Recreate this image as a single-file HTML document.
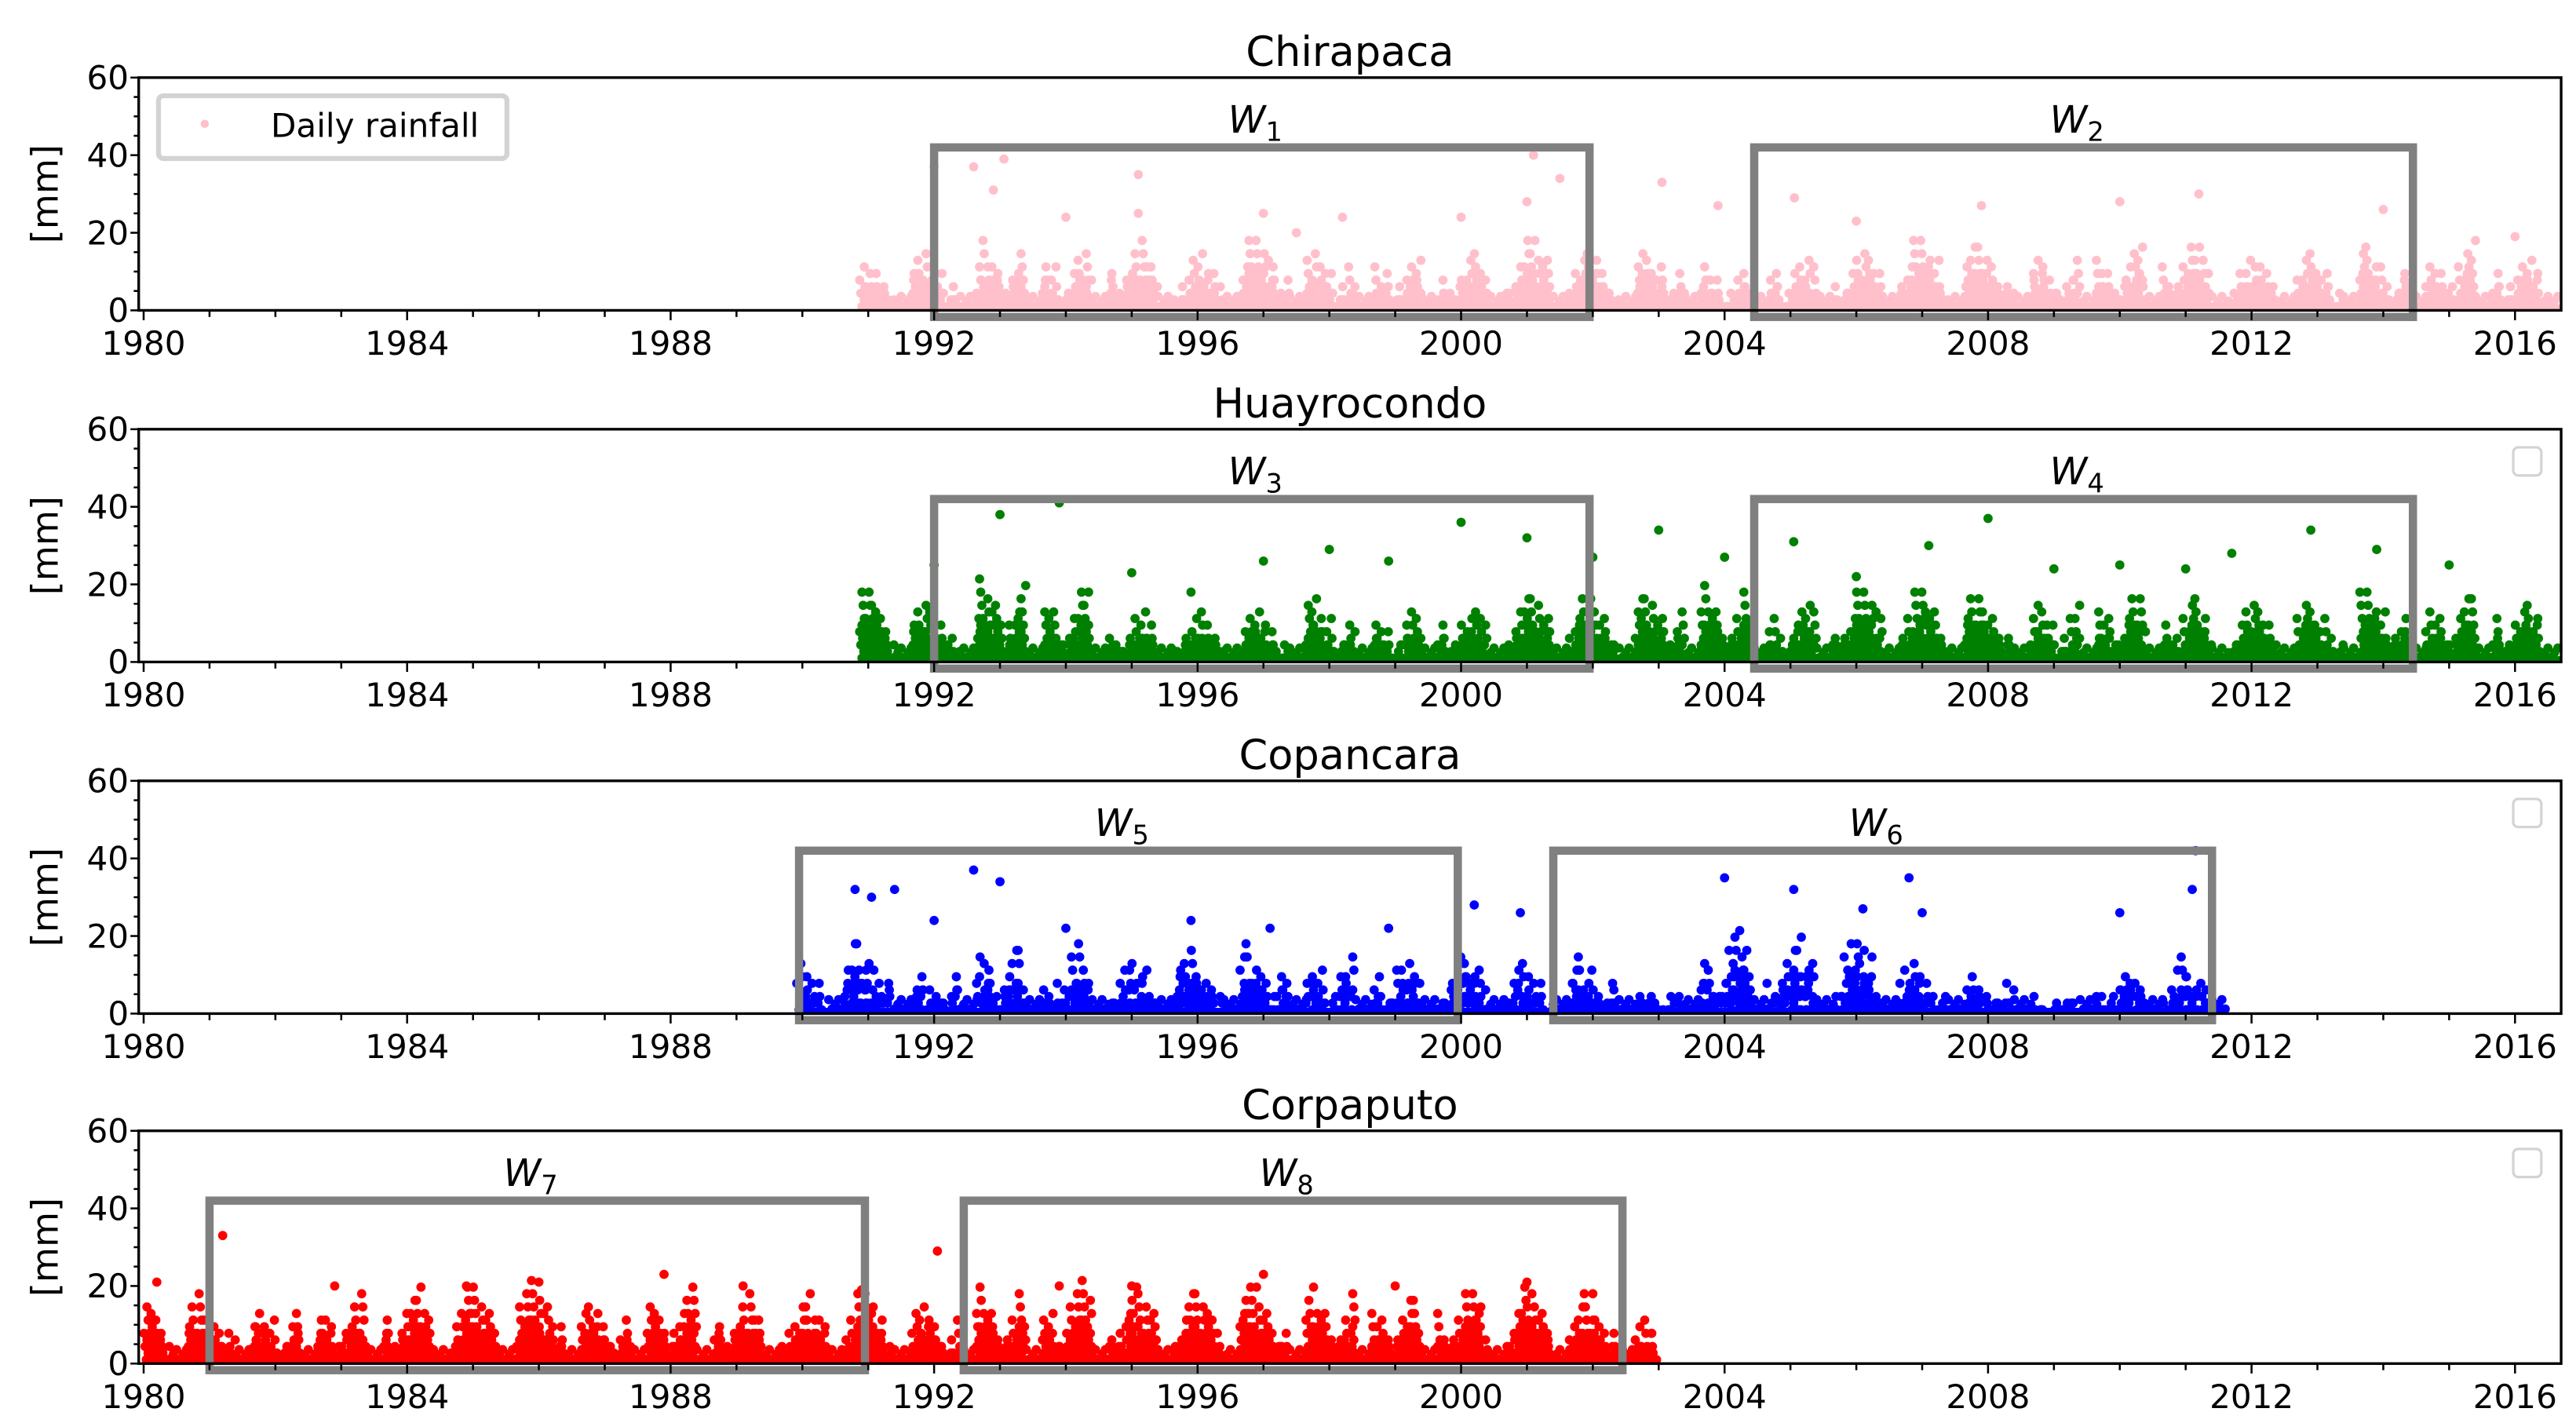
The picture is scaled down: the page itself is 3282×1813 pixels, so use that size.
<!DOCTYPE html>
<html><head><meta charset="utf-8">
<style>
html,body{margin:0;padding:0;background:#fff;}
svg{display:block;font-family:"DejaVu Sans","Liberation Sans",sans-serif;}
</style></head>
<body>
<svg id="chart" width="3282" height="1813" viewBox="0 0 1560 862" preserveAspectRatio="none" xmlns="http://www.w3.org/2000/svg"></svg>
<script>
// ---- data ----
const stationNames = ["Chirapaca","Huayrocondo","Copancara","Corpaputo"];
const stationColors = ["#ffc0cb","#008000","#0000ff","#ff0000"];
const xTickYears = [1980,1984,1988,1992,1996,2000,2004,2008,2012,2016];
const yTickVals = [0,20,40,60];
const dataStart = [1990.9,1990.9,1989.95,1980.0];
const dataEnd = [2016.7,2016.7,2011.6,2002.95];
// wet-season peak levels of the dense cloud (mm), season centred on January of year
const chiraYears = [1991,1992,1993,1994,1995,1996,1997,1998,1999,2000,2001,2002,2003,2004,2005,2006,2007,2008,2009,2010,2011,2012,2013,2014,2015,2016];
const chiraDense = [12,16,18,17,18,15,20,16,14,15,19,17,16,13,15,17,19,18,15,17,18,14,15,17,16,14];
const huayYears = chiraYears;
const huayDense = [20,17,22,19,13,13,14,17,14,15,19,18,19,20,17,20,19,18,17,18,17,17,16,19,18,16];
const copanYears = [1990,1991,1992,1993,1994,1995,1996,1997,1998,1999,2000,2001,2002,2003,2004,2005,2006,2007,2008,2009,2010,2011];
const copanDense = [14,20,12,20,18,16,18,18,16,16,16,14,18,8,24,20,22,14,12,6,14,16];
const corpYears = [1980,1981,1982,1983,1984,1985,1986,1987,1988,1989,1990,1991,1992,1993,1994,1995,1996,1997,1998,1999,2000,2001,2002,2003];
const corpDense = [20,18,16,18,20,22,22,17,20,18,18,20,16,20,22,21,20,22,20,18,20,21,18,12];
// outliers (date, mm)
const chiraOutX = [1992.0,1992.6,1993.06,1992.9,1995.1,1995.1,1994.0,1997.0,1998.2,1997.5,2000.0,2001.1,2001.0,2001.5,2003.05,2003.9,2005.06,2006.0,2007.9,2010.0,2011.2,2014.0,2015.4,2016.0];
const chiraOutV = [37,37,39,31,35,25,24,25,24,20,24,40,28,34,33,27,29,23,27,28,30,26,18,19];
const huayOutX = [1993.0,1993.9,1992.0,1995.0,1995.9,1997.0,1998.0,1998.9,2000.0,2001.0,2002.0,2003.0,2004.0,2005.05,2006.0,2007.1,2008.0,2009.0,2010.0,2011.0,2011.7,2012.9,2013.9,2015.0];
const huayOutV = [38,41,25,23,18,26,29,26,36,32,27,34,27,31,22,30,37,24,25,24,28,34,29,25];
const copanOutX = [1990.8,1991.05,1991.4,1992.6,1993.0,1992.0,1994.0,1995.9,1997.1,1998.9,2000.2,2000.9,2004.0,2005.05,2006.1,2006.8,2007.0,2010.0,2011.15,2011.1];
const copanOutV = [32,30,32,37,34,24,22,24,22,22,28,26,35,32,27,35,26,26,42,32];
const corpOutX = [1981.2,1992.05,1980.2,1982.9,1984.9,1986.0,1987.9,1989.1,1990.9,1993.9,1995.0,1997.0,1999.0,2001.0,2002.0];
const corpOutV = [33,29,21,20,20,21,23,20,19,20,20,23,20,21,18];
const windowLabels = ["1","2","3","4","5","6","7","8"];
const windowStart = [1992.0,2004.45,1992.0,2004.45,1989.95,2001.4,1981.0,1992.45];
const windowEnd = [2001.95,2014.45,2001.95,2014.45,1999.95,2011.4,1990.95,2002.45];

const seasonYears=[chiraYears,huayYears,copanYears,corpYears];
const seasonDense=[chiraDense,huayDense,copanDense,corpDense];
const outX=[chiraOutX,huayOutX,copanOutX,corpOutX];
const outV=[chiraOutV,huayOutV,copanOutV,corpOutV];

// ---- layout (styling constants) ----
const NS="http://www.w3.org/2000/svg";
const svg=document.getElementById('chart');
const L=84,R=1551,X0=1979.925,X1=2016.70;
const panelTop=[47,260,473,685],panelH=141;
const profile=[0.25,0.45,0.35,0.7,0.55,0.95,0.6,1.0,0.5,0.8,0.65,0.4,0.7,0.45,0.3,0.25];
const DOT=2.8;
function sx(yr){return L+(yr-X0)/(X1-X0)*(R-L);}
function mk(tag,attrs,parent){const e=document.createElementNS(NS,tag);for(const k in attrs)e.setAttribute(k,attrs[k]);(parent||svg).appendChild(e);return e;}

for(let p=0;p<4;p++){
  const top=panelTop[p],bot=top+panelH;
  const sy=v=>bot-v/60*panelH;
  const g=mk('g',{});
  
  
  const t=mk('text',{x:(L+R)/2,y:top-7,'text-anchor':'middle','font-size':25},g);
  t.textContent=stationNames[p];
  
  
  const pts=mk('g',{fill:stationColors[p]},g);
  
  
  const s0=dataStart[p],s1=dataEnd[p];
  const zl=mk('rect',{x:sx(s0),y:bot-3.5,width:sx(s1)-sx(s0),height:3.5},pts);
  
  
  const yrs=seasonYears[p],dn=seasonDense[p];
  let k=0;
  for(let i=0;i<yrs.length;i++){
    for(let j=0;j<profile.length;j++){
      const dx=-0.32+j*0.045;
      const yr=yrs[i]+dx; if(yr<s0||yr>s1)continue;
      const h=dn[i]*profile[(j+i*3)%profile.length];
      for(let v=1;v<=h;v+=1.7){
        k++;
        if(v>h*0.5 && k%2===0)continue;
        if(p===2 && k%3===0)continue;
        const c=mk('circle',{cx:sx(yr)+((k*7)%5-2)*0.7,cy:sy(v),r:DOT},pts);
        
        
      }
    }
    for(let dx=0.4;dx<0.68;dx+=0.05){
      const yr=yrs[i]+dx; if(yr<s0||yr>s1)continue;
      k++;
      const c=mk('circle',{cx:sx(yr),cy:sy(1.2+(k%3)*1.2),r:DOT},pts);
      
      
    }
  }
  for(let i=0;i<outX[p].length;i++){
    const c=mk('circle',{cx:sx(outX[p][i]),cy:sy(outV[p][i]),r:DOT},pts);
    
    
  }
  for(let w=2*p;w<2*p+2;w++){
    const x1=sx(windowStart[w]),x2=sx(windowEnd[w]);
    const r=mk('rect',{x:x1,y:sy(42),width:x2-x1,height:bot+4-sy(42),fill:'none',stroke:'#808080','stroke-width':5},g);
    
    
    const lt=mk('text',{x:(x1+x2)/2-4,y:sy(42)-9,'text-anchor':'middle','font-size':23,'font-style':'italic'},g);
    
    
    lt.textContent='W';
    const sub=mk('tspan',{'font-size':16,dy:5,'font-style':'normal'},lt);
    sub.textContent=windowLabels[w];
  }
  const fr=mk('rect',{x:L,y:top,width:R-L,height:panelH,fill:'none',stroke:'#000','stroke-width':1.6},g);
  
  
  for(let v=0;v<=60;v+=5){
    mk('line',{x1:L,x2:L-(v%20===0?5:3),y1:sy(v),y2:sy(v),stroke:'#000','stroke-width':1.2},g);
  }
  yTickVals.forEach(v=>{
    const tl=mk('text',{x:L-6,y:sy(v)+7,'text-anchor':'end','font-size':20},g);
    tl.textContent=v;
    
    
  });
  const yl=mk('text',{x:0,y:0,'text-anchor':'middle','font-size':22,transform:`translate(35,${(top+bot)/2}) rotate(-90)`},g);
  yl.textContent='[mm]';
  
  
  for(let yr=1980;yr<=2016;yr++){
    mk('line',{x1:sx(yr),x2:sx(yr),y1:bot,y2:bot+(yr%4===0?6:4),stroke:'#000','stroke-width':1.2},g);
  }
  xTickYears.forEach(yr=>{
    const tl=mk('text',{x:sx(yr),y:bot+27,'text-anchor':'middle','font-size':20},g);
    tl.textContent=yr;
    
    
  });
  if(p===0){
    const lg=mk('g',{},g);
    
    
    mk('rect',{x:96,y:58,width:211,height:38,rx:3,fill:'#fff',stroke:'#d3d3d3','stroke-width':3},lg);
    mk('circle',{cx:124,cy:75,r:2.5,fill:stationColors[0]},lg);
    const lt=mk('text',{x:164,y:83,'font-size':20},lg);
    lt.textContent='Daily rainfall';
    
    
  } else {
    const eb=mk('rect',{x:1522,y:top+11,width:17,height:17,rx:3,fill:'#fff',stroke:'#d3d3d3','stroke-width':1.5},g);
    
    
  }
}
</script>
</body></html>
